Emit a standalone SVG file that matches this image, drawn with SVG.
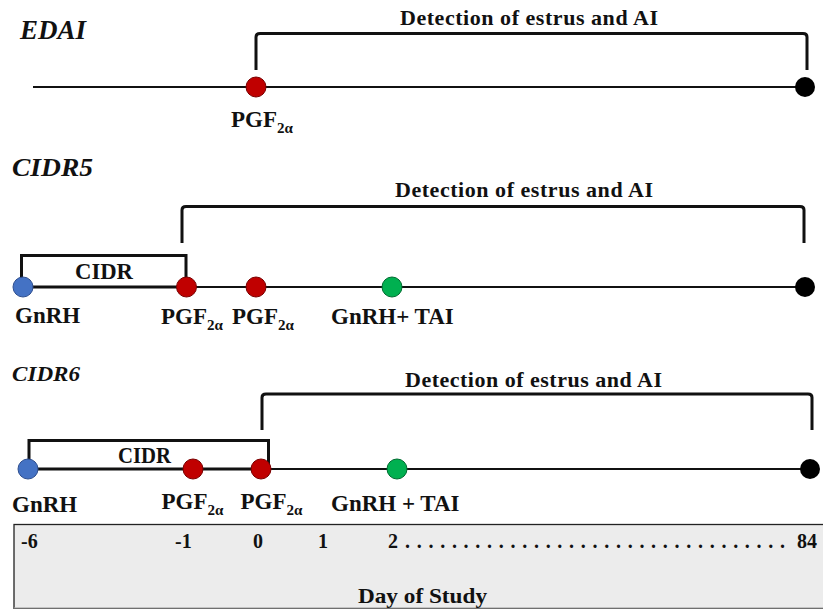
<svg xmlns="http://www.w3.org/2000/svg" width="823" height="609" viewBox="0 0 823 609">
  <style>
    text { font-family: "Liberation Serif", "Times New Roman", serif; font-weight: bold; fill: #111; }
    .title { font-style: italic; }
    .lbl { font-size: 23px; }
    .sub { font-size: 15px; }
    .det { font-size: 22px; }
    .day { font-size: 20px; }
    .line { stroke: #111; stroke-width: 2; fill: none; }
    .thick { stroke: #111; stroke-width: 3; fill: none; }
    .pgf { fill: #c00000; stroke: #7a0000; stroke-width: 1; }
    .gnrh { fill: #4472c4; stroke: #2f4f8f; stroke-width: 1; }
    .tai { fill: #00b050; stroke: #006b30; stroke-width: 1; }
    .end { fill: #000; }
  </style>

  <!-- day-of-study scale panel -->
  <g id="scale">
    <rect x="14" y="524.5" width="820" height="84" fill="#ececec" stroke="#222" stroke-width="1.3"/>
    <line x1="14" y1="608" x2="823" y2="608" stroke="#bbb" stroke-width="1"/>
    <text class="day" x="21" y="548">-6</text>
    <text class="day" x="175" y="548">-1</text>
    <text class="day" x="253" y="548">0</text>
    <text class="day" x="318" y="548">1</text>
    <text class="day" x="388" y="548">2</text>
    <text class="day" x="405" y="548" textLength="380">.................................</text>
    <text class="day" x="797" y="548" font-size="21">84</text>
    <text class="det" x="358" y="603" textLength="129" lengthAdjust="spacingAndGlyphs">Day of Study</text>
  </g>

  <!-- protocol titles -->
  <g id="titles">
    <text class="title" x="20" y="38.5" font-size="27">EDAI</text>
    <text class="title" x="12" y="176" font-size="25" textLength="81" lengthAdjust="spacingAndGlyphs">CIDR5</text>
    <text class="title" x="12" y="380.5" font-size="20" textLength="68" lengthAdjust="spacingAndGlyphs">CIDR6</text>
  </g>

  <!-- timelines, CIDR insert boxes and estrus-detection brackets -->
  <g id="connectors">
    <!-- EDAI -->
    <line class="line" x1="33" y1="87" x2="805" y2="87"/>
    <path class="thick" d="M256 70 V37 Q256 33.5 260 33.5 H803 Q807 33.5 807 37 V70"/>

    <!-- CIDR5 -->
    <line class="line" x1="23" y1="287" x2="805" y2="287"/>
    <path class="thick" d="M21.5 287 V255.5 H186 V287 Z"/>
    <path class="thick" d="M182 243 V210 Q182 206.5 186 206.5 H800 Q804 206.5 804 210 V243"/>

    <!-- CIDR6 -->
    <line class="line" x1="28" y1="469" x2="810" y2="469"/>
    <path class="thick" d="M29 469 V440.5 H268.5 V469 Z"/>
    <path class="thick" d="M262 430 V397.5 Q262 394 266 394 H808 Q812 394 812 397.5 V430"/>
  </g>

  <!-- bracket captions -->
  <g id="captions">
    <text class="det" x="400" y="25" textLength="258">Detection of estrus and AI</text>
    <text class="det" x="395" y="196.5" textLength="258">Detection of estrus and AI</text>
    <text class="det" x="405" y="387" textLength="257">Detection of estrus and AI</text>
    <text class="lbl" x="75" y="278.5" textLength="58" lengthAdjust="spacingAndGlyphs">CIDR</text>
    <text class="lbl" x="118" y="463" font-size="21" textLength="53" lengthAdjust="spacingAndGlyphs">CIDR</text>
  </g>

  <!-- EDAI events -->
  <g id="edai-pgf">
    <circle class="pgf" cx="256" cy="87" r="10"/>
    <text class="lbl" x="231" y="127">PGF<tspan class="sub" dy="6">2α</tspan></text>
  </g>
  <g id="edai-end">
    <circle class="end" cx="805" cy="87" r="10"/>
  </g>

  <!-- CIDR5 events -->
  <g id="cidr5-gnrh">
    <circle class="gnrh" cx="23" cy="287" r="10"/>
    <text class="lbl" x="15" y="322.5">GnRH</text>
  </g>
  <g id="cidr5-pgf1">
    <circle class="pgf" cx="186.5" cy="287" r="10"/>
    <text class="lbl" x="161" y="323.5">PGF<tspan class="sub" dy="6">2α</tspan></text>
  </g>
  <g id="cidr5-pgf2">
    <circle class="pgf" cx="256" cy="287" r="10"/>
    <text class="lbl" x="232" y="323.5">PGF<tspan class="sub" dy="6">2α</tspan></text>
  </g>
  <g id="cidr5-tai">
    <circle class="tai" cx="392" cy="287" r="10"/>
    <text class="lbl" x="331" y="323.5">GnRH+ TAI</text>
  </g>
  <g id="cidr5-end">
    <circle class="end" cx="805" cy="287" r="10"/>
  </g>

  <!-- CIDR6 events -->
  <g id="cidr6-gnrh">
    <circle class="gnrh" cx="28" cy="469" r="10"/>
    <text class="lbl" x="12" y="511.5">GnRH</text>
  </g>
  <g id="cidr6-pgf1">
    <circle class="pgf" cx="193" cy="469" r="10"/>
    <text class="lbl" x="161.5" y="509">PGF<tspan class="sub" dy="6">2α</tspan></text>
  </g>
  <g id="cidr6-pgf2">
    <circle class="pgf" cx="261" cy="469" r="10"/>
    <text class="lbl" x="240.5" y="509">PGF<tspan class="sub" dy="6">2α</tspan></text>
  </g>
  <g id="cidr6-tai">
    <circle class="tai" cx="397" cy="469" r="10"/>
    <text class="lbl" x="331" y="511">GnRH + TAI</text>
  </g>
  <g id="cidr6-end">
    <circle class="end" cx="810" cy="469" r="10"/>
  </g>
</svg>
